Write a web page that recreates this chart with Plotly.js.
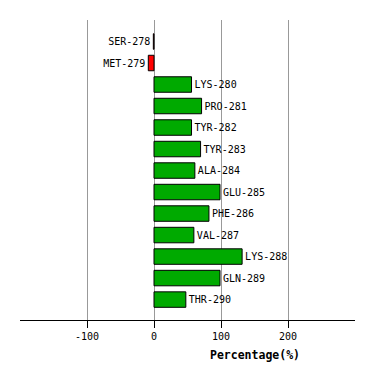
<!DOCTYPE html>
<html>
<head>
<meta charset="utf-8">
<script src="https://cdn.plot.ly/plotly-3.0.1.min.js"></script>
<style>html,body{margin:0;padding:0;background:#fff;}#chart{width:374px;height:380px;}</style>
</head>
<body>
<div id="chart"></div>
<script>
const residues = ["SER-278","MET-279","LYS-280","PRO-281","TYR-282","TYR-283","ALA-284","GLU-285","PHE-286","VAL-287","LYS-288","GLN-289","THR-290"];
const percentages = [-1, -8.5, 56, 71, 56, 69.5, 61, 98.5, 82, 59.5, 131.5, 98.5, 47.5];
const xTicks = [-100, 0, 100, 200];
const xTitle = "Percentage(%)";

const colors = percentages.map(v => v < 0 ? "#ff0000" : "#00aa00");

const trace = {
  type: "bar",
  orientation: "h",
  y: residues,
  x: percentages,
  marker: { color: colors, line: { color: "#000", width: 1 } },
  width: 0.72,
  text: residues,
  textposition: "outside",
  constraintext: "none",
  cliponaxis: false,
  textfont: { family: "DejaVu Sans Mono", size: 10, color: "#000" },
  hoverinfo: "none"
};

const layout = {
  width: 374, height: 380,
  margin: { l: 20, r: 19, t: 20, b: 60 },
  paper_bgcolor: "#fff", plot_bgcolor: "#fff",
  showlegend: false,
  xaxis: {
    range: [-200, 300],
    tickvals: xTicks,
    ticktext: xTicks.map(String),
    showgrid: true, gridcolor: "#999", gridwidth: 1,
    zeroline: true, zerolinecolor: "#999", zerolinewidth: 1,
    showline: true, linecolor: "#000", linewidth: 1,
    ticks: "outside", ticklen: 7, tickcolor: "#000",
    tickfont: { family: "DejaVu Sans Mono", size: 10, color: "#000" },
    fixedrange: true
  },
  yaxis: {
    type: "category",
    range: [12.95, -1],
    showticklabels: false, showgrid: false, zeroline: false, showline: false,
    ticks: "", fixedrange: true
  },
  annotations: [{
    text: "<b>" + xTitle + "</b>",
    xref: "x", yref: "paper", x: 150, y: -0.117,
    xanchor: "center", yanchor: "middle", showarrow: false,
    font: { family: "DejaVu Sans Mono", size: 11.5, color: "#000" }
  }]
};

Plotly.newPlot("chart", [trace], layout, { displayModeBar: false, staticPlot: true });
</script>
</body>
</html>
